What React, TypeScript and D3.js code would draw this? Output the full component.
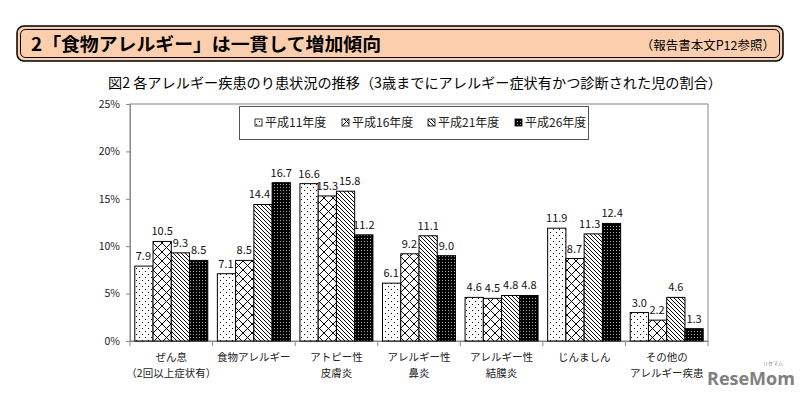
import React, { useEffect, useRef } from 'react';
import * as d3 from 'd3';

const categories = [
  ['ぜん息', '（2回以上症状有）'],
  ['食物アレルギー'],
  ['アトピー性', '皮膚炎'],
  ['アレルギー性', '鼻炎'],
  ['アレルギー性', '結膜炎'],
  ['じんましん'],
  ['その他の', 'アレルギー疾患'],
];
const seriesNames = ['平成11年度', '平成16年度', '平成21年度', '平成26年度'];
const h11 = [7.9, 7.1, 16.6, 6.1, 4.6, 11.9, 3.0];
const h16 = [10.5, 8.5, 15.3, 9.2, 4.5, 8.7, 2.2];
const h21 = [9.3, 14.4, 15.8, 11.1, 4.8, 11.3, 4.6];
const h26 = [8.5, 16.7, 11.2, 9.0, 4.8, 12.4, 1.3];
const yTicks = [0, 5, 10, 15, 20, 25];

const FONT = '"Noto Sans CJK JP", "Noto Sans", sans-serif';

const App: React.FC = () => {
  const ref = useRef<SVGSVGElement>(null);

  useEffect(() => {
    document.body.style.margin = '0';
    if (!ref.current) return;
    const svg = d3.select(ref.current);
    svg.selectAll('*').remove();

    // fill patterns
    const defs = svg.append('defs');
    const p1 = defs.append('pattern').attr('id', 'p0').attr('width', 6).attr('height', 6).attr('patternUnits', 'userSpaceOnUse');
    p1.append('rect').attr('width', 6).attr('height', 6).attr('fill', '#fff');
    p1.append('rect').attr('x', 1).attr('y', 1).attr('width', 1).attr('height', 1).attr('fill', '#000');
    p1.append('rect').attr('x', 4).attr('y', 4).attr('width', 1).attr('height', 1).attr('fill', '#000');
    const p2 = defs.append('pattern').attr('id', 'p1').attr('width', 9).attr('height', 9).attr('patternUnits', 'userSpaceOnUse');
    p2.append('rect').attr('width', 9).attr('height', 9).attr('fill', '#fff');
    p2.append('path').attr('d', 'M0,0L9,9M9,0L0,9').attr('stroke', '#000').attr('stroke-width', 1);
    const p3 = defs.append('pattern').attr('id', 'p2').attr('width', 4).attr('height', 4).attr('patternUnits', 'userSpaceOnUse');
    p3.append('rect').attr('width', 4).attr('height', 4).attr('fill', '#fff');
    p3.append('path').attr('d', 'M-1,-1L5,5M-1,3L1,5M3,-1L5,1').attr('stroke', '#000').attr('stroke-width', 1);
    const p4 = defs.append('pattern').attr('id', 'p3').attr('width', 3).attr('height', 3).attr('patternUnits', 'userSpaceOnUse');
    p4.append('rect').attr('width', 3).attr('height', 3).attr('fill', '#000');
    p4.append('rect').attr('x', 1).attr('y', 1).attr('width', 1).attr('height', 1).attr('fill', '#aaa');

    // header box
    svg.append('rect').attr('x', 17).attr('y', 26).attr('width', 766).attr('height', 35).attr('rx', 7)
      .attr('fill', '#fbcfae').attr('stroke', '#000').attr('stroke-width', 1.5);
    svg.append('rect').attr('x', 20.5).attr('y', 29.5).attr('width', 759).attr('height', 28).attr('rx', 5)
      .attr('fill', 'none').attr('stroke', '#000').attr('stroke-width', 1);
    svg.append('text').attr('x', 31).attr('y', 51).attr('font-family', FONT).attr('font-size', 18)
      .attr('font-weight', 'bold').attr('textLength', 350).attr('lengthAdjust', 'spacingAndGlyphs')
      .text('2「食物アレルギー」は一貫して増加傾向');
    svg.append('text').attr('x', 775).attr('y', 50).attr('text-anchor', 'end').attr('font-family', FONT)
      .attr('font-size', 12.5).text('（報告書本文P12参照）');

    svg.append('text').attr('x', 108).attr('y', 88).attr('font-family', FONT).attr('font-size', 14)
      .attr('textLength', 614).attr('lengthAdjust', 'spacingAndGlyphs')
      .text('図2  各アレルギー疾患のり患状況の推移（3歳までにアレルギー症状有かつ診断された児の割合）');

    const x0 = d3.scaleBand<number>().domain(d3.range(categories.length)).range([130, 708])
      .paddingInner(0.116).paddingOuter(0.058);
    const x1 = d3.scaleBand<number>().domain(d3.range(4)).range([0, x0.bandwidth()]);
    const y = d3.scaleLinear().domain([0, 25]).range([341, 104]);

    // plot frame
    svg.append('rect').attr('x', 130).attr('y', 104).attr('width', 578).attr('height', 237)
      .attr('fill', 'none').attr('stroke', '#888').attr('stroke-width', 1);

    // y axis
    const yAxis = svg.append('g').attr('transform', 'translate(130,0)')
      .call(d3.axisLeft(y).tickValues(yTicks).tickSize(4).tickFormat((d) => `${d}%`));
    yAxis.select('.domain').attr('stroke', '#888');
    yAxis.selectAll('line').attr('stroke', '#888');
    yAxis.selectAll('text').attr('font-family', FONT).attr('font-size', 10.5).attr('fill', '#222').attr('dx', -3);

    // x axis
    const step = x0.step();
    svg.append('line').attr('x1', 130).attr('x2', 708).attr('y1', 341.5).attr('y2', 341.5).attr('stroke', '#888');
    svg.append('g').selectAll('line').data(d3.range(categories.length + 1)).join('line')
      .attr('x1', (i) => 130 + i * step).attr('x2', (i) => 130 + i * step)
      .attr('y1', 341).attr('y2', 346).attr('stroke', '#888');

    const series = [h11, h16, h21, h26];
    const g = svg.append('g');
    series.forEach((vals, si) => {
      g.append('g').selectAll('rect').data(vals).join('rect')
        .attr('x', (_, i) => x0(i)! + x1(si)!)
        .attr('y', (d) => y(d))
        .attr('width', x1.bandwidth())
        .attr('height', (d) => y(0) - y(d))
        .attr('fill', `url(#p${si})`)
        .attr('stroke', '#000').attr('stroke-width', 1);
    });

    // value labels: pushed clear of a taller neighbouring bar and of the previous label
    const lg = svg.append('g');
    categories.forEach((_, ci) => {
      let prev: { x: number; y: number; w: number } | null = null;
      series.forEach((vals, si) => {
        const v = vals[ci];
        const left = x0(ci)! + x1(si)!;
        let cx = left + x1.bandwidth() / 2;
        const by = y(v) - 6;
        const t = lg.append('text').attr('y', by).attr('text-anchor', 'middle')
          .attr('font-family', FONT).attr('font-size', 11).attr('fill', '#111').text(v.toFixed(1));
        const w = (t.node() as SVGTextElement).getComputedTextLength();
        if (si < 3 && y(series[si + 1][ci]) < by) {
          const nextLeft = left + x1.bandwidth();
          if (cx + w / 2 > nextLeft - 2) cx = nextLeft - 2 - w / 2;
        }
        if (prev && Math.abs(prev.y - by) < 11) {
          const overlap = prev.x + prev.w / 2 + 1 - (cx - w / 2);
          if (overlap > 0) cx += overlap;
        }
        t.attr('x', cx);
        prev = { x: cx, y: by, w };
      });
    });

    // category labels
    const cl = svg.append('g');
    categories.forEach((lines, i) => {
      const cx = x0(i)! + x0.bandwidth() / 2;
      lines.forEach((t, li) => {
        cl.append('text').attr('x', cx).attr('y', 361 + li * 16).attr('text-anchor', 'middle')
          .attr('font-family', FONT).attr('font-size', 10.5).attr('fill', '#222').text(t);
      });
    });

    // legend
    svg.append('rect').attr('x', 239.5).attr('y', 106.5).attr('width', 349).attr('height', 33)
      .attr('fill', '#fff').attr('stroke', '#555');
    const lx = [255, 342, 428, 515];
    seriesNames.forEach((s, i) => {
      svg.append('rect').attr('x', lx[i]).attr('y', 119).attr('width', 7).attr('height', 7)
        .attr('fill', `url(#p${i})`).attr('stroke', '#000').attr('stroke-width', 0.8);
      svg.append('text').attr('x', lx[i] + 10).attr('y', 127).attr('font-family', FONT)
        .attr('font-size', 12).attr('fill', '#222').text(s);
    });

    // watermark
    svg.append('text').attr('x', 707).attr('y', 385).attr('font-family', '"Open Sans", sans-serif')
      .attr('font-size', 18).attr('font-weight', 'bold').attr('fill', '#808080').text('ReseMom');
    svg.append('text').attr('x', 783).attr('y', 365).attr('text-anchor', 'end').attr('font-family', FONT)
      .attr('font-size', 5).attr('fill', '#808080').text('リセマム');
  }, []);

  return (
    <svg ref={ref} width={800} height={396}
      style={{ position: 'absolute', left: 0, top: 0, background: '#fff', display: 'block' }} />
  );
};

export default App;
